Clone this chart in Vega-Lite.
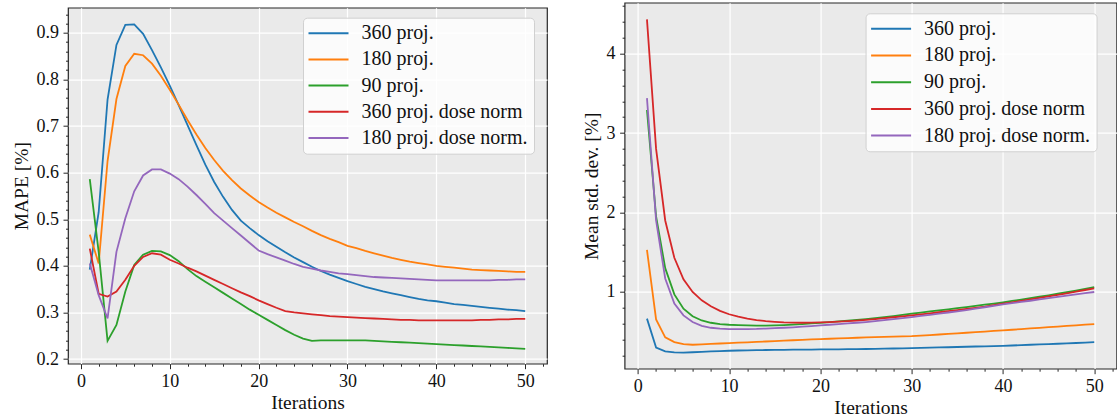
{
  "$schema": "https://vega.github.io/schema/vega-lite/v6.json",
  "background": "white",
  "padding": {"left": 10, "top": -4.3, "right": 0, "bottom": 0},
  "bounds": "flush",
  "center": true,
  "spacing": 77.6,
  "config": {
    "font": "Liberation Serif",
    "view": {"fill": "#EAEAEA", "stroke": "#262626", "strokeWidth": 1.2},
    "axis": {
      "domain": false,
      "labelFont": "Liberation Serif", "labelFontSize": 18, "labelColor": "#111111",
      "titleFont": "Liberation Serif", "titleFontSize": 19.5, "titleFontWeight": "normal", "titleColor": "#111111",
      "tickColor": "#262626", "tickWidth": 1,
      "gridColor": "#FFFFFF", "gridWidth": 1.2,
      "labelOverlap": false, "labelPadding": 4.5, "titlePadding": 5
    },
    "legend": {
      "orient": "none", "title": null,
      "symbolType": "M-4,0H4", "symbolSize": 100, "symbolStrokeWidth": 2, "symbolOffset": 10,
      "labelFont": "Liberation Serif", "labelFontSize": 20, "labelColor": "#111111", "labelOffset": 23, "labelLimit": 400,
      "padding": 5.5, "fillColor": "rgba(255,255,255,0.8)", "strokeColor": "#D0D0D0", "cornerRadius": 4
    }
  },
  "datasets": {
    "mape": [
      {"series":"360 proj.","iter":1,"val":0.392},{"series":"360 proj.","iter":2,"val":0.515},{"series":"360 proj.","iter":3,"val":0.757},{"series":"360 proj.","iter":4,"val":0.874},{"series":"360 proj.","iter":5,"val":0.917},
      {"series":"360 proj.","iter":6,"val":0.918},{"series":"360 proj.","iter":7,"val":0.898},{"series":"360 proj.","iter":8,"val":0.863},{"series":"360 proj.","iter":9,"val":0.826},{"series":"360 proj.","iter":10,"val":0.787},
      {"series":"360 proj.","iter":11,"val":0.745},{"series":"360 proj.","iter":12,"val":0.702},{"series":"360 proj.","iter":13,"val":0.659},{"series":"360 proj.","iter":14,"val":0.617},{"series":"360 proj.","iter":15,"val":0.580},
      {"series":"360 proj.","iter":16,"val":0.548},{"series":"360 proj.","iter":17,"val":0.520},{"series":"360 proj.","iter":18,"val":0.497},{"series":"360 proj.","iter":19,"val":0.481},{"series":"360 proj.","iter":20,"val":0.466},
      {"series":"360 proj.","iter":21,"val":0.453},{"series":"360 proj.","iter":22,"val":0.441},{"series":"360 proj.","iter":23,"val":0.429},{"series":"360 proj.","iter":24,"val":0.418},{"series":"360 proj.","iter":25,"val":0.408},
      {"series":"360 proj.","iter":26,"val":0.398},{"series":"360 proj.","iter":27,"val":0.389},{"series":"360 proj.","iter":28,"val":0.381},{"series":"360 proj.","iter":29,"val":0.374},{"series":"360 proj.","iter":30,"val":0.367},
      {"series":"360 proj.","iter":31,"val":0.361},{"series":"360 proj.","iter":32,"val":0.355},{"series":"360 proj.","iter":33,"val":0.350},{"series":"360 proj.","iter":34,"val":0.345},{"series":"360 proj.","iter":35,"val":0.341},
      {"series":"360 proj.","iter":36,"val":0.337},{"series":"360 proj.","iter":37,"val":0.333},{"series":"360 proj.","iter":38,"val":0.329},{"series":"360 proj.","iter":39,"val":0.326},{"series":"360 proj.","iter":40,"val":0.324},
      {"series":"360 proj.","iter":41,"val":0.321},{"series":"360 proj.","iter":42,"val":0.318},{"series":"360 proj.","iter":43,"val":0.316},{"series":"360 proj.","iter":44,"val":0.314},{"series":"360 proj.","iter":45,"val":0.312},
      {"series":"360 proj.","iter":46,"val":0.310},{"series":"360 proj.","iter":47,"val":0.308},{"series":"360 proj.","iter":48,"val":0.306},{"series":"360 proj.","iter":49,"val":0.305},{"series":"360 proj.","iter":50,"val":0.303},

      {"series":"180 proj.","iter":1,"val":0.467},{"series":"180 proj.","iter":2,"val":0.405},{"series":"180 proj.","iter":3,"val":0.625},{"series":"180 proj.","iter":4,"val":0.758},{"series":"180 proj.","iter":5,"val":0.829},
      {"series":"180 proj.","iter":6,"val":0.855},{"series":"180 proj.","iter":7,"val":0.852},{"series":"180 proj.","iter":8,"val":0.834},{"series":"180 proj.","iter":9,"val":0.808},{"series":"180 proj.","iter":10,"val":0.778},
      {"series":"180 proj.","iter":11,"val":0.746},{"series":"180 proj.","iter":12,"val":0.713},{"series":"180 proj.","iter":13,"val":0.682},{"series":"180 proj.","iter":14,"val":0.653},{"series":"180 proj.","iter":15,"val":0.627},
      {"series":"180 proj.","iter":16,"val":0.604},{"series":"180 proj.","iter":17,"val":0.584},{"series":"180 proj.","iter":18,"val":0.566},{"series":"180 proj.","iter":19,"val":0.551},{"series":"180 proj.","iter":20,"val":0.537},
      {"series":"180 proj.","iter":21,"val":0.525},{"series":"180 proj.","iter":22,"val":0.514},{"series":"180 proj.","iter":23,"val":0.504},{"series":"180 proj.","iter":24,"val":0.494},{"series":"180 proj.","iter":25,"val":0.485},
      {"series":"180 proj.","iter":26,"val":0.475},{"series":"180 proj.","iter":27,"val":0.466},{"series":"180 proj.","iter":28,"val":0.458},{"series":"180 proj.","iter":29,"val":0.451},{"series":"180 proj.","iter":30,"val":0.443},
      {"series":"180 proj.","iter":31,"val":0.438},{"series":"180 proj.","iter":32,"val":0.432},{"series":"180 proj.","iter":33,"val":0.427},{"series":"180 proj.","iter":34,"val":0.422},{"series":"180 proj.","iter":35,"val":0.417},
      {"series":"180 proj.","iter":36,"val":0.413},{"series":"180 proj.","iter":37,"val":0.409},{"series":"180 proj.","iter":38,"val":0.406},{"series":"180 proj.","iter":39,"val":0.403},{"series":"180 proj.","iter":40,"val":0.400},
      {"series":"180 proj.","iter":41,"val":0.398},{"series":"180 proj.","iter":42,"val":0.396},{"series":"180 proj.","iter":43,"val":0.394},{"series":"180 proj.","iter":44,"val":0.392},{"series":"180 proj.","iter":45,"val":0.391},
      {"series":"180 proj.","iter":46,"val":0.390},{"series":"180 proj.","iter":47,"val":0.389},{"series":"180 proj.","iter":48,"val":0.388},{"series":"180 proj.","iter":49,"val":0.387},{"series":"180 proj.","iter":50,"val":0.387},

      {"series":"90 proj.","iter":1,"val":0.586},{"series":"90 proj.","iter":2,"val":0.43},{"series":"90 proj.","iter":3,"val":0.239},{"series":"90 proj.","iter":4,"val":0.273},{"series":"90 proj.","iter":5,"val":0.345},
      {"series":"90 proj.","iter":6,"val":0.402},{"series":"90 proj.","iter":7,"val":0.424},{"series":"90 proj.","iter":8,"val":0.432},{"series":"90 proj.","iter":9,"val":0.431},{"series":"90 proj.","iter":10,"val":0.423},
      {"series":"90 proj.","iter":11,"val":0.410},{"series":"90 proj.","iter":12,"val":0.393},{"series":"90 proj.","iter":13,"val":0.378},{"series":"90 proj.","iter":14,"val":0.366},{"series":"90 proj.","iter":15,"val":0.354},
      {"series":"90 proj.","iter":16,"val":0.342},{"series":"90 proj.","iter":17,"val":0.330},{"series":"90 proj.","iter":18,"val":0.318},{"series":"90 proj.","iter":19,"val":0.306},{"series":"90 proj.","iter":20,"val":0.295},
      {"series":"90 proj.","iter":21,"val":0.284},{"series":"90 proj.","iter":22,"val":0.273},{"series":"90 proj.","iter":23,"val":0.262},{"series":"90 proj.","iter":24,"val":0.252},{"series":"90 proj.","iter":25,"val":0.244},
      {"series":"90 proj.","iter":26,"val":0.239},{"series":"90 proj.","iter":27,"val":0.240},{"series":"90 proj.","iter":28,"val":0.240},{"series":"90 proj.","iter":29,"val":0.240},{"series":"90 proj.","iter":30,"val":0.240},
      {"series":"90 proj.","iter":31,"val":0.240},{"series":"90 proj.","iter":32,"val":0.240},{"series":"90 proj.","iter":33,"val":0.239},{"series":"90 proj.","iter":34,"val":0.238},{"series":"90 proj.","iter":35,"val":0.237},
      {"series":"90 proj.","iter":36,"val":0.236},{"series":"90 proj.","iter":37,"val":0.235},{"series":"90 proj.","iter":38,"val":0.234},{"series":"90 proj.","iter":39,"val":0.233},{"series":"90 proj.","iter":40,"val":0.232},
      {"series":"90 proj.","iter":41,"val":0.231},{"series":"90 proj.","iter":42,"val":0.230},{"series":"90 proj.","iter":43,"val":0.229},{"series":"90 proj.","iter":44,"val":0.228},{"series":"90 proj.","iter":45,"val":0.227},
      {"series":"90 proj.","iter":46,"val":0.226},{"series":"90 proj.","iter":47,"val":0.225},{"series":"90 proj.","iter":48,"val":0.224},{"series":"90 proj.","iter":49,"val":0.223},{"series":"90 proj.","iter":50,"val":0.222},

      {"series":"360 proj. dose norm","iter":1,"val":0.437},{"series":"360 proj. dose norm","iter":2,"val":0.340},{"series":"360 proj. dose norm","iter":3,"val":0.334},{"series":"360 proj. dose norm","iter":4,"val":0.345},{"series":"360 proj. dose norm","iter":5,"val":0.370},
      {"series":"360 proj. dose norm","iter":6,"val":0.400},{"series":"360 proj. dose norm","iter":7,"val":0.419},{"series":"360 proj. dose norm","iter":8,"val":0.427},{"series":"360 proj. dose norm","iter":9,"val":0.424},{"series":"360 proj. dose norm","iter":10,"val":0.413},
      {"series":"360 proj. dose norm","iter":11,"val":0.405},{"series":"360 proj. dose norm","iter":12,"val":0.396},{"series":"360 proj. dose norm","iter":13,"val":0.388},{"series":"360 proj. dose norm","iter":14,"val":0.379},{"series":"360 proj. dose norm","iter":15,"val":0.370},
      {"series":"360 proj. dose norm","iter":16,"val":0.361},{"series":"360 proj. dose norm","iter":17,"val":0.352},{"series":"360 proj. dose norm","iter":18,"val":0.343},{"series":"360 proj. dose norm","iter":19,"val":0.335},{"series":"360 proj. dose norm","iter":20,"val":0.326},
      {"series":"360 proj. dose norm","iter":21,"val":0.318},{"series":"360 proj. dose norm","iter":22,"val":0.310},{"series":"360 proj. dose norm","iter":23,"val":0.303},{"series":"360 proj. dose norm","iter":24,"val":0.300},{"series":"360 proj. dose norm","iter":25,"val":0.298},
      {"series":"360 proj. dose norm","iter":26,"val":0.296},{"series":"360 proj. dose norm","iter":27,"val":0.294},{"series":"360 proj. dose norm","iter":28,"val":0.292},{"series":"360 proj. dose norm","iter":29,"val":0.291},{"series":"360 proj. dose norm","iter":30,"val":0.290},
      {"series":"360 proj. dose norm","iter":31,"val":0.289},{"series":"360 proj. dose norm","iter":32,"val":0.288},{"series":"360 proj. dose norm","iter":33,"val":0.287},{"series":"360 proj. dose norm","iter":34,"val":0.286},{"series":"360 proj. dose norm","iter":35,"val":0.285},
      {"series":"360 proj. dose norm","iter":36,"val":0.284},{"series":"360 proj. dose norm","iter":37,"val":0.284},{"series":"360 proj. dose norm","iter":38,"val":0.283},{"series":"360 proj. dose norm","iter":39,"val":0.283},{"series":"360 proj. dose norm","iter":40,"val":0.283},
      {"series":"360 proj. dose norm","iter":41,"val":0.283},{"series":"360 proj. dose norm","iter":42,"val":0.283},{"series":"360 proj. dose norm","iter":43,"val":0.283},{"series":"360 proj. dose norm","iter":44,"val":0.283},{"series":"360 proj. dose norm","iter":45,"val":0.284},
      {"series":"360 proj. dose norm","iter":46,"val":0.284},{"series":"360 proj. dose norm","iter":47,"val":0.285},{"series":"360 proj. dose norm","iter":48,"val":0.285},{"series":"360 proj. dose norm","iter":49,"val":0.286},{"series":"360 proj. dose norm","iter":50,"val":0.286},

      {"series":"180 proj. dose norm.","iter":1,"val":0.405},{"series":"180 proj. dose norm.","iter":2,"val":0.337},{"series":"180 proj. dose norm.","iter":3,"val":0.287},{"series":"180 proj. dose norm.","iter":4,"val":0.430},{"series":"180 proj. dose norm.","iter":5,"val":0.502},
      {"series":"180 proj. dose norm.","iter":6,"val":0.560},{"series":"180 proj. dose norm.","iter":7,"val":0.594},{"series":"180 proj. dose norm.","iter":8,"val":0.607},{"series":"180 proj. dose norm.","iter":9,"val":0.607},{"series":"180 proj. dose norm.","iter":10,"val":0.598},
      {"series":"180 proj. dose norm.","iter":11,"val":0.586},{"series":"180 proj. dose norm.","iter":12,"val":0.570},{"series":"180 proj. dose norm.","iter":13,"val":0.552},{"series":"180 proj. dose norm.","iter":14,"val":0.533},{"series":"180 proj. dose norm.","iter":15,"val":0.513},
      {"series":"180 proj. dose norm.","iter":16,"val":0.497},{"series":"180 proj. dose norm.","iter":17,"val":0.481},{"series":"180 proj. dose norm.","iter":18,"val":0.465},{"series":"180 proj. dose norm.","iter":19,"val":0.449},{"series":"180 proj. dose norm.","iter":20,"val":0.433},
      {"series":"180 proj. dose norm.","iter":21,"val":0.425},{"series":"180 proj. dose norm.","iter":22,"val":0.418},{"series":"180 proj. dose norm.","iter":23,"val":0.411},{"series":"180 proj. dose norm.","iter":24,"val":0.404},{"series":"180 proj. dose norm.","iter":25,"val":0.398},
      {"series":"180 proj. dose norm.","iter":26,"val":0.394},{"series":"180 proj. dose norm.","iter":27,"val":0.390},{"series":"180 proj. dose norm.","iter":28,"val":0.387},{"series":"180 proj. dose norm.","iter":29,"val":0.384},{"series":"180 proj. dose norm.","iter":30,"val":0.382},
      {"series":"180 proj. dose norm.","iter":31,"val":0.380},{"series":"180 proj. dose norm.","iter":32,"val":0.378},{"series":"180 proj. dose norm.","iter":33,"val":0.376},{"series":"180 proj. dose norm.","iter":34,"val":0.375},{"series":"180 proj. dose norm.","iter":35,"val":0.374},
      {"series":"180 proj. dose norm.","iter":36,"val":0.373},{"series":"180 proj. dose norm.","iter":37,"val":0.372},{"series":"180 proj. dose norm.","iter":38,"val":0.371},{"series":"180 proj. dose norm.","iter":39,"val":0.370},{"series":"180 proj. dose norm.","iter":40,"val":0.369},
      {"series":"180 proj. dose norm.","iter":41,"val":0.369},{"series":"180 proj. dose norm.","iter":42,"val":0.369},{"series":"180 proj. dose norm.","iter":43,"val":0.369},{"series":"180 proj. dose norm.","iter":44,"val":0.369},{"series":"180 proj. dose norm.","iter":45,"val":0.369},
      {"series":"180 proj. dose norm.","iter":46,"val":0.369},{"series":"180 proj. dose norm.","iter":47,"val":0.370},{"series":"180 proj. dose norm.","iter":48,"val":0.370},{"series":"180 proj. dose norm.","iter":49,"val":0.371},{"series":"180 proj. dose norm.","iter":50,"val":0.371}
    ],
    "std": [
      {"series":"360 proj.","iter":1,"val":0.665},{"series":"360 proj.","iter":2,"val":0.300},{"series":"360 proj.","iter":3,"val":0.252},{"series":"360 proj.","iter":4,"val":0.240},{"series":"360 proj.","iter":5,"val":0.238},
      {"series":"360 proj.","iter":6,"val":0.242},{"series":"360 proj.","iter":7,"val":0.247},{"series":"360 proj.","iter":8,"val":0.252},{"series":"360 proj.","iter":9,"val":0.257},{"series":"360 proj.","iter":10,"val":0.261},
      {"series":"360 proj.","iter":11,"val":0.264},{"series":"360 proj.","iter":12,"val":0.266},{"series":"360 proj.","iter":13,"val":0.268},{"series":"360 proj.","iter":14,"val":0.270},{"series":"360 proj.","iter":15,"val":0.271},
      {"series":"360 proj.","iter":16,"val":0.272},{"series":"360 proj.","iter":17,"val":0.274},{"series":"360 proj.","iter":18,"val":0.275},{"series":"360 proj.","iter":19,"val":0.276},{"series":"360 proj.","iter":20,"val":0.277},
      {"series":"360 proj.","iter":21,"val":0.278},{"series":"360 proj.","iter":22,"val":0.279},{"series":"360 proj.","iter":23,"val":0.280},{"series":"360 proj.","iter":24,"val":0.281},{"series":"360 proj.","iter":25,"val":0.283},
      {"series":"360 proj.","iter":26,"val":0.285},{"series":"360 proj.","iter":27,"val":0.287},{"series":"360 proj.","iter":28,"val":0.289},{"series":"360 proj.","iter":29,"val":0.291},{"series":"360 proj.","iter":30,"val":0.293},
      {"series":"360 proj.","iter":31,"val":0.296},{"series":"360 proj.","iter":32,"val":0.299},{"series":"360 proj.","iter":33,"val":0.302},{"series":"360 proj.","iter":34,"val":0.305},{"series":"360 proj.","iter":35,"val":0.308},
      {"series":"360 proj.","iter":36,"val":0.311},{"series":"360 proj.","iter":37,"val":0.314},{"series":"360 proj.","iter":38,"val":0.317},{"series":"360 proj.","iter":39,"val":0.320},{"series":"360 proj.","iter":40,"val":0.323},
      {"series":"360 proj.","iter":41,"val":0.327},{"series":"360 proj.","iter":42,"val":0.331},{"series":"360 proj.","iter":43,"val":0.336},{"series":"360 proj.","iter":44,"val":0.340},{"series":"360 proj.","iter":45,"val":0.344},
      {"series":"360 proj.","iter":46,"val":0.349},{"series":"360 proj.","iter":47,"val":0.354},{"series":"360 proj.","iter":48,"val":0.358},{"series":"360 proj.","iter":49,"val":0.363},{"series":"360 proj.","iter":50,"val":0.368},

      {"series":"180 proj.","iter":1,"val":1.53},{"series":"180 proj.","iter":2,"val":0.655},{"series":"180 proj.","iter":3,"val":0.430},{"series":"180 proj.","iter":4,"val":0.370},{"series":"180 proj.","iter":5,"val":0.343},
      {"series":"180 proj.","iter":6,"val":0.336},{"series":"180 proj.","iter":7,"val":0.341},{"series":"180 proj.","iter":8,"val":0.346},{"series":"180 proj.","iter":9,"val":0.352},{"series":"180 proj.","iter":10,"val":0.357},
      {"series":"180 proj.","iter":11,"val":0.362},{"series":"180 proj.","iter":12,"val":0.367},{"series":"180 proj.","iter":13,"val":0.372},{"series":"180 proj.","iter":14,"val":0.377},{"series":"180 proj.","iter":15,"val":0.382},
      {"series":"180 proj.","iter":16,"val":0.387},{"series":"180 proj.","iter":17,"val":0.393},{"series":"180 proj.","iter":18,"val":0.398},{"series":"180 proj.","iter":19,"val":0.403},{"series":"180 proj.","iter":20,"val":0.408},
      {"series":"180 proj.","iter":21,"val":0.412},{"series":"180 proj.","iter":22,"val":0.416},{"series":"180 proj.","iter":23,"val":0.420},{"series":"180 proj.","iter":24,"val":0.424},{"series":"180 proj.","iter":25,"val":0.428},
      {"series":"180 proj.","iter":26,"val":0.432},{"series":"180 proj.","iter":27,"val":0.435},{"series":"180 proj.","iter":28,"val":0.438},{"series":"180 proj.","iter":29,"val":0.442},{"series":"180 proj.","iter":30,"val":0.445},
      {"series":"180 proj.","iter":31,"val":0.451},{"series":"180 proj.","iter":32,"val":0.458},{"series":"180 proj.","iter":33,"val":0.465},{"series":"180 proj.","iter":34,"val":0.472},{"series":"180 proj.","iter":35,"val":0.480},
      {"series":"180 proj.","iter":36,"val":0.487},{"series":"180 proj.","iter":37,"val":0.495},{"series":"180 proj.","iter":38,"val":0.502},{"series":"180 proj.","iter":39,"val":0.510},{"series":"180 proj.","iter":40,"val":0.517},
      {"series":"180 proj.","iter":41,"val":0.525},{"series":"180 proj.","iter":42,"val":0.533},{"series":"180 proj.","iter":43,"val":0.541},{"series":"180 proj.","iter":44,"val":0.549},{"series":"180 proj.","iter":45,"val":0.557},
      {"series":"180 proj.","iter":46,"val":0.565},{"series":"180 proj.","iter":47,"val":0.573},{"series":"180 proj.","iter":48,"val":0.581},{"series":"180 proj.","iter":49,"val":0.589},{"series":"180 proj.","iter":50,"val":0.597},

      {"series":"90 proj.","iter":1,"val":3.29},{"series":"90 proj.","iter":2,"val":1.95},{"series":"90 proj.","iter":3,"val":1.30},{"series":"90 proj.","iter":4,"val":0.97},{"series":"90 proj.","iter":5,"val":0.79},
      {"series":"90 proj.","iter":6,"val":0.695},{"series":"90 proj.","iter":7,"val":0.642},{"series":"90 proj.","iter":8,"val":0.613},{"series":"90 proj.","iter":9,"val":0.597},{"series":"90 proj.","iter":10,"val":0.588},
      {"series":"90 proj.","iter":11,"val":0.583},{"series":"90 proj.","iter":12,"val":0.580},{"series":"90 proj.","iter":13,"val":0.578},{"series":"90 proj.","iter":14,"val":0.577},{"series":"90 proj.","iter":15,"val":0.579},
      {"series":"90 proj.","iter":16,"val":0.583},{"series":"90 proj.","iter":17,"val":0.589},{"series":"90 proj.","iter":18,"val":0.596},{"series":"90 proj.","iter":19,"val":0.604},{"series":"90 proj.","iter":20,"val":0.612},
      {"series":"90 proj.","iter":21,"val":0.621},{"series":"90 proj.","iter":22,"val":0.630},{"series":"90 proj.","iter":23,"val":0.639},{"series":"90 proj.","iter":24,"val":0.648},{"series":"90 proj.","iter":25,"val":0.658},
      {"series":"90 proj.","iter":26,"val":0.670},{"series":"90 proj.","iter":27,"val":0.683},{"series":"90 proj.","iter":28,"val":0.697},{"series":"90 proj.","iter":29,"val":0.712},{"series":"90 proj.","iter":30,"val":0.727},
      {"series":"90 proj.","iter":31,"val":0.741},{"series":"90 proj.","iter":32,"val":0.755},{"series":"90 proj.","iter":33,"val":0.768},{"series":"90 proj.","iter":34,"val":0.782},{"series":"90 proj.","iter":35,"val":0.796},
      {"series":"90 proj.","iter":36,"val":0.810},{"series":"90 proj.","iter":37,"val":0.825},{"series":"90 proj.","iter":38,"val":0.840},{"series":"90 proj.","iter":39,"val":0.855},{"series":"90 proj.","iter":40,"val":0.870},
      {"series":"90 proj.","iter":41,"val":0.887},{"series":"90 proj.","iter":42,"val":0.904},{"series":"90 proj.","iter":43,"val":0.922},{"series":"90 proj.","iter":44,"val":0.940},{"series":"90 proj.","iter":45,"val":0.958},
      {"series":"90 proj.","iter":46,"val":0.978},{"series":"90 proj.","iter":47,"val":0.998},{"series":"90 proj.","iter":48,"val":1.018},{"series":"90 proj.","iter":49,"val":1.039},{"series":"90 proj.","iter":50,"val":1.060},

      {"series":"360 proj. dose norm","iter":1,"val":4.43},{"series":"360 proj. dose norm","iter":2,"val":2.80},{"series":"360 proj. dose norm","iter":3,"val":1.90},{"series":"360 proj. dose norm","iter":4,"val":1.43},{"series":"360 proj. dose norm","iter":5,"val":1.16},
      {"series":"360 proj. dose norm","iter":6,"val":1.00},{"series":"360 proj. dose norm","iter":7,"val":0.895},{"series":"360 proj. dose norm","iter":8,"val":0.820},{"series":"360 proj. dose norm","iter":9,"val":0.762},{"series":"360 proj. dose norm","iter":10,"val":0.720},
      {"series":"360 proj. dose norm","iter":11,"val":0.690},{"series":"360 proj. dose norm","iter":12,"val":0.665},{"series":"360 proj. dose norm","iter":13,"val":0.647},{"series":"360 proj. dose norm","iter":14,"val":0.634},{"series":"360 proj. dose norm","iter":15,"val":0.625},
      {"series":"360 proj. dose norm","iter":16,"val":0.618},{"series":"360 proj. dose norm","iter":17,"val":0.614},{"series":"360 proj. dose norm","iter":18,"val":0.613},{"series":"360 proj. dose norm","iter":19,"val":0.614},{"series":"360 proj. dose norm","iter":20,"val":0.617},
      {"series":"360 proj. dose norm","iter":21,"val":0.621},{"series":"360 proj. dose norm","iter":22,"val":0.627},{"series":"360 proj. dose norm","iter":23,"val":0.633},{"series":"360 proj. dose norm","iter":24,"val":0.640},{"series":"360 proj. dose norm","iter":25,"val":0.648},
      {"series":"360 proj. dose norm","iter":26,"val":0.658},{"series":"360 proj. dose norm","iter":27,"val":0.670},{"series":"360 proj. dose norm","iter":28,"val":0.682},{"series":"360 proj. dose norm","iter":29,"val":0.694},{"series":"360 proj. dose norm","iter":30,"val":0.706},
      {"series":"360 proj. dose norm","iter":31,"val":0.719},{"series":"360 proj. dose norm","iter":32,"val":0.732},{"series":"360 proj. dose norm","iter":33,"val":0.745},{"series":"360 proj. dose norm","iter":34,"val":0.759},{"series":"360 proj. dose norm","iter":35,"val":0.773},
      {"series":"360 proj. dose norm","iter":36,"val":0.787},{"series":"360 proj. dose norm","iter":37,"val":0.801},{"series":"360 proj. dose norm","iter":38,"val":0.816},{"series":"360 proj. dose norm","iter":39,"val":0.834},{"series":"360 proj. dose norm","iter":40,"val":0.853},
      {"series":"360 proj. dose norm","iter":41,"val":0.870},{"series":"360 proj. dose norm","iter":42,"val":0.888},{"series":"360 proj. dose norm","iter":43,"val":0.906},{"series":"360 proj. dose norm","iter":44,"val":0.925},{"series":"360 proj. dose norm","iter":45,"val":0.944},
      {"series":"360 proj. dose norm","iter":46,"val":0.964},{"series":"360 proj. dose norm","iter":47,"val":0.984},{"series":"360 proj. dose norm","iter":48,"val":1.004},{"series":"360 proj. dose norm","iter":49,"val":1.025},{"series":"360 proj. dose norm","iter":50,"val":1.046},

      {"series":"180 proj. dose norm.","iter":1,"val":3.44},{"series":"180 proj. dose norm.","iter":2,"val":1.90},{"series":"180 proj. dose norm.","iter":3,"val":1.17},{"series":"180 proj. dose norm.","iter":4,"val":0.855},{"series":"180 proj. dose norm.","iter":5,"val":0.706},
      {"series":"180 proj. dose norm.","iter":6,"val":0.622},{"series":"180 proj. dose norm.","iter":7,"val":0.573},{"series":"180 proj. dose norm.","iter":8,"val":0.550},{"series":"180 proj. dose norm.","iter":9,"val":0.539},{"series":"180 proj. dose norm.","iter":10,"val":0.534},
      {"series":"180 proj. dose norm.","iter":11,"val":0.533},{"series":"180 proj. dose norm.","iter":12,"val":0.533},{"series":"180 proj. dose norm.","iter":13,"val":0.535},{"series":"180 proj. dose norm.","iter":14,"val":0.540},{"series":"180 proj. dose norm.","iter":15,"val":0.545},
      {"series":"180 proj. dose norm.","iter":16,"val":0.550},{"series":"180 proj. dose norm.","iter":17,"val":0.556},{"series":"180 proj. dose norm.","iter":18,"val":0.563},{"series":"180 proj. dose norm.","iter":19,"val":0.571},{"series":"180 proj. dose norm.","iter":20,"val":0.580},
      {"series":"180 proj. dose norm.","iter":21,"val":0.588},{"series":"180 proj. dose norm.","iter":22,"val":0.597},{"series":"180 proj. dose norm.","iter":23,"val":0.605},{"series":"180 proj. dose norm.","iter":24,"val":0.613},{"series":"180 proj. dose norm.","iter":25,"val":0.622},
      {"series":"180 proj. dose norm.","iter":26,"val":0.633},{"series":"180 proj. dose norm.","iter":27,"val":0.645},{"series":"180 proj. dose norm.","iter":28,"val":0.658},{"series":"180 proj. dose norm.","iter":29,"val":0.671},{"series":"180 proj. dose norm.","iter":30,"val":0.685},
      {"series":"180 proj. dose norm.","iter":31,"val":0.699},{"series":"180 proj. dose norm.","iter":32,"val":0.713},{"series":"180 proj. dose norm.","iter":33,"val":0.727},{"series":"180 proj. dose norm.","iter":34,"val":0.742},{"series":"180 proj. dose norm.","iter":35,"val":0.757},
      {"series":"180 proj. dose norm.","iter":36,"val":0.773},{"series":"180 proj. dose norm.","iter":37,"val":0.790},{"series":"180 proj. dose norm.","iter":38,"val":0.808},{"series":"180 proj. dose norm.","iter":39,"val":0.826},{"series":"180 proj. dose norm.","iter":40,"val":0.845},
      {"series":"180 proj. dose norm.","iter":41,"val":0.860},{"series":"180 proj. dose norm.","iter":42,"val":0.875},{"series":"180 proj. dose norm.","iter":43,"val":0.890},{"series":"180 proj. dose norm.","iter":44,"val":0.906},{"series":"180 proj. dose norm.","iter":45,"val":0.922},
      {"series":"180 proj. dose norm.","iter":46,"val":0.938},{"series":"180 proj. dose norm.","iter":47,"val":0.954},{"series":"180 proj. dose norm.","iter":48,"val":0.970},{"series":"180 proj. dose norm.","iter":49,"val":0.985},{"series":"180 proj. dose norm.","iter":50,"val":1.000}
    ]
  },
  "hconcat": [
    {
      "width": 479, "height": 356,
      "data": {"name": "mape"},
      "mark": {"type": "line", "strokeWidth": 1.8},
      "encoding": {
        "x": {
          "field": "iter", "type": "quantitative",
          "scale": {"domain": [-1.45, 52.45], "nice": false, "zero": false},
          "axis": {
            "title": "Iterations", "titlePadding": 3, "labelPadding": 4,
            "values": [0,2,4,6,8,10,12,14,16,18,20,22,24,26,28,30,32,34,36,38,40,42,44,46,48,50,52],
            "labelExpr": "datum.value % 10 === 0 ? datum.label : ''",
            "tickSize": {"condition": {"test": "datum.value % 10 === 0", "value": 5}, "value": 2.5},
            "gridOpacity": {"condition": {"test": "datum.value % 10 === 0", "value": 1}, "value": 0}
          }
        },
        "y": {
          "field": "val", "type": "quantitative",
          "scale": {"domain": [0.19, 0.954], "nice": false, "zero": false},
          "axis": {
            "title": "MAPE [%]",
            "values": [0.2,0.22,0.24,0.26,0.28,0.3,0.32,0.34,0.36,0.38,0.4,0.42,0.44,0.46,0.48,0.5,0.52,0.54,0.56,0.58,0.6,0.62,0.64,0.66,0.68,0.7,0.72,0.74,0.76,0.78,0.8,0.82,0.84,0.86,0.88,0.9,0.92,0.94],
            "labelExpr": "abs(datum.value*10 - round(datum.value*10)) < 0.001 ? format(datum.value, '.1f') : ''",
            "tickSize": {"condition": {"test": "abs(datum.value*10 - round(datum.value*10)) < 0.001", "value": 5}, "value": 2.5},
            "gridOpacity": {"condition": {"test": "abs(datum.value*10 - round(datum.value*10)) < 0.001", "value": 1}, "value": 0}
          }
        },
        "color": {
          "field": "series", "type": "nominal",
          "scale": {"domain": ["360 proj.", "180 proj.", "90 proj.", "360 proj. dose norm", "180 proj. dose norm."], "range": ["#1f77b4", "#ff7f0e", "#2ca02c", "#d62728", "#9467bd"]},
          "legend": {"legendX": 235, "legendY": 10, "rowPadding": 6.2}
        }
      }
    },
    {
      "width": 492, "height": 366,
      "data": {"name": "std"},
      "mark": {"type": "line", "strokeWidth": 1.8},
      "encoding": {
        "x": {
          "field": "iter", "type": "quantitative",
          "scale": {"domain": [-1.45, 52.45], "nice": false, "zero": false},
          "axis": {
            "title": "Iterations", "titlePadding": 3, "labelPadding": 4,
            "values": [0,2,4,6,8,10,12,14,16,18,20,22,24,26,28,30,32,34,36,38,40,42,44,46,48,50,52],
            "labelExpr": "datum.value % 10 === 0 ? datum.label : ''",
            "tickSize": {"condition": {"test": "datum.value % 10 === 0", "value": 5}, "value": 2.5},
            "gridOpacity": {"condition": {"test": "datum.value % 10 === 0", "value": 1}, "value": 0}
          }
        },
        "y": {
          "field": "val", "type": "quantitative",
          "scale": {"domain": [0.035, 4.64], "nice": false, "zero": false},
          "axis": {
            "title": "Mean std. dev. [%]",
            "values": [0.2,0.4,0.6,0.8,1,1.2,1.4,1.6,1.8,2,2.2,2.4,2.6,2.8,3,3.2,3.4,3.6,3.8,4,4.2,4.4,4.6],
            "labelExpr": "abs(datum.value - round(datum.value)) < 0.001 ? format(datum.value, '.0f') : ''",
            "tickSize": {"condition": {"test": "abs(datum.value - round(datum.value)) < 0.001", "value": 5}, "value": 2.5},
            "gridOpacity": {"condition": {"test": "abs(datum.value - round(datum.value)) < 0.001", "value": 1}, "value": 0}
          }
        },
        "color": {
          "field": "series", "type": "nominal",
          "scale": {"domain": ["360 proj.", "180 proj.", "90 proj.", "360 proj. dose norm", "180 proj. dose norm."], "range": ["#1f77b4", "#ff7f0e", "#2ca02c", "#d62728", "#9467bd"]},
          "legend": {"legendX": 241, "legendY": 10.6, "rowPadding": 6.7}
        }
      }
    }
  ],
  "resolve": {"scale": {"color": "independent"}}
}
